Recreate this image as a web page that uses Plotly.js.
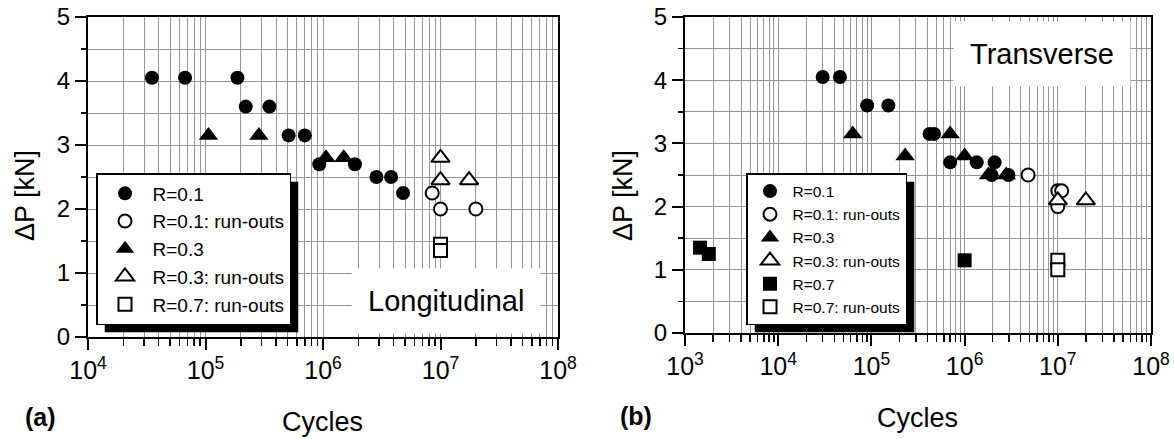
<!DOCTYPE html>
<html><head><meta charset="utf-8">
<script src="https://cdn.plot.ly/plotly-3.0.1.min.js"></script>
<style>html,body{margin:0;padding:0;background:#fff;} #chart{width:1174px;height:439px;}</style>
</head><body><div id="chart"></div>
<script>
// ---------- Data: (a) Longitudinal ----------
const longR01Cycles   = [3.5e4, 6.7e4, 1.87e5, 2.2e5, 3.5e5, 5.1e5, 7.0e5, 9.3e5, 1.87e6, 2.85e6, 3.8e6, 4.8e6];
const longR01Load     = [4.05, 4.05, 4.05, 3.6, 3.6, 3.15, 3.15, 2.7, 2.7, 2.5, 2.5, 2.25];
const longR01RoCycles = [8.5e6, 1.0e7, 2.0e7];
const longR01RoLoad   = [2.25, 2.0, 2.0];
const longR03Cycles   = [1.06e5, 2.85e5, 1.06e6, 1.5e6];
const longR03Load     = [3.15, 3.15, 2.8, 2.8];
const longR03RoCycles = [1.0e7, 1.0e7, 1.75e7];
const longR03RoLoad   = [2.8, 2.45, 2.45];
const longR07RoCycles = [1.0e7, 1.0e7];
const longR07RoLoad   = [1.45, 1.35];

// ---------- Data: (b) Transverse ----------
const tranR01Cycles   = [3.0e4, 4.6e4, 9.0e4, 1.52e5, 4.2e5, 4.7e5, 7.0e5, 1.35e6, 2.1e6, 1.95e6, 2.95e6];
const tranR01Load     = [4.05, 4.05, 3.6, 3.6, 3.15, 3.15, 2.7, 2.7, 2.7, 2.5, 2.5];
const tranR01RoCycles = [4.8e6, 1.0e7, 1.1e7, 1.0e7];
const tranR01RoLoad   = [2.5, 2.25, 2.25, 2.0];
const tranR03Cycles   = [6.3e4, 2.3e5, 7.0e5, 1.0e6, 1.8e6, 2.8e6];
const tranR03Load     = [3.15, 2.8, 3.15, 2.8, 2.5, 2.5];
const tranR03RoCycles = [1.0e7, 2.0e7];
const tranR03RoLoad   = [2.1, 2.1];
const tranR07Cycles   = [1.45e3, 1.8e3, 1.0e6];
const tranR07Load     = [1.35, 1.25, 1.15];
const tranR07RoCycles = [1.0e7, 1.0e7];
const tranR07RoLoad   = [1.15, 1.0];

const legendNames = ['R=0.1', 'R=0.1: run-outs', 'R=0.3', 'R=0.3: run-outs', 'R=0.7', 'R=0.7: run-outs'];
const panelLabels = ['(a)', '(b)'];
const panelNames = ['Longitudinal', 'Transverse'];
const xTitle = 'Cycles';
const yTitle = '\u0394P [kN]';

// ---------- Styles ----------
const W = 1174, H = 439;
const FONT = 'Arial, "Liberation Sans", Helvetica, sans-serif';
function filled(sym, size) { return {symbol: sym, size: size, color: 'black', line: {width: 0}}; }
function open(sym, size) { return {symbol: sym, size: size, color: 'white', line: {color: 'black', width: 2}}; }
const mk = {
  c: filled('circle', 14), co: open('circle', 13),
  t: filled('triangle-up', 17), to: open('triangle-up', 16),
  s: filled('square', 14), so: open('square', 13)
};
function tr(x, y, name, marker, xa, ya, lg) {
  return {type: 'scatter', mode: 'markers', x: x, y: y, name: name, marker: marker,
          xaxis: xa, yaxis: ya, legend: lg, cliponaxis: false, hoverinfo: 'skip'};
}
const data = [
  tr(longR01Cycles, longR01Load, legendNames[0], mk.c, 'x', 'y', 'legend'),
  tr(longR01RoCycles, longR01RoLoad, legendNames[1], mk.co, 'x', 'y', 'legend'),
  tr(longR03Cycles, longR03Load, legendNames[2], mk.t, 'x', 'y', 'legend'),
  tr(longR03RoCycles, longR03RoLoad, legendNames[3], mk.to, 'x', 'y', 'legend'),
  tr(longR07RoCycles, longR07RoLoad, legendNames[5], mk.so, 'x', 'y', 'legend'),
  tr(tranR01Cycles, tranR01Load, legendNames[0], mk.c, 'x2', 'y2', 'legend2'),
  tr(tranR01RoCycles, tranR01RoLoad, legendNames[1], mk.co, 'x2', 'y2', 'legend2'),
  tr(tranR03Cycles, tranR03Load, legendNames[2], mk.t, 'x2', 'y2', 'legend2'),
  tr(tranR03RoCycles, tranR03RoLoad, legendNames[3], mk.to, 'x2', 'y2', 'legend2'),
  tr(tranR07Cycles, tranR07Load, legendNames[4], mk.s, 'x2', 'y2', 'legend2'),
  tr(tranR07RoCycles, tranR07RoLoad, legendNames[5], mk.so, 'x2', 'y2', 'legend2')
];

const GRID = '#959595';
function xAxis(range, dom, anchor) {
  return {type: 'log', range: range, domain: dom, anchor: anchor, dtick: 1,
    exponentformat: 'power', showexponent: 'all', tickfont: {size: 20, color: 'black'},
    ticks: 'outside', ticklen: 11, tickwidth: 2, tickcolor: 'black',
    showline: true, linecolor: 'black', linewidth: 2, mirror: true,
    showgrid: true, gridcolor: GRID, gridwidth: 1, zeroline: false, automargin: false,
    minor: {dtick: 'D1', ticks: 'outside', ticklen: 7, tickwidth: 1.5, tickcolor: 'black',
            showgrid: true, gridcolor: GRID, gridwidth: 1}};
}
function yAxis(dom, anchor) {
  return {range: [0, 5], domain: dom, anchor: anchor, dtick: 1, tickfont: {size: 24, color: 'black'},
    ticks: 'outside', ticklen: 11, tickwidth: 2, tickcolor: 'black',
    showline: true, linecolor: 'black', linewidth: 2, mirror: true,
    showgrid: true, gridcolor: GRID, gridwidth: 1, zeroline: false, automargin: false,
    minor: {dtick: 0.5, ticks: 'outside', ticklen: 5, tickwidth: 1.5, tickcolor: 'black',
            showgrid: true, gridcolor: GRID, gridwidth: 1}};
}
function ann(text, px, py, size, extra) {
  return Object.assign({text: text, xref: 'paper', yref: 'paper', x: px / W, y: 1 - py / H,
    xanchor: 'center', yanchor: 'middle', showarrow: false,
    font: {family: FONT, size: size, color: 'black'}}, extra || {});
}

const layout = {
  width: W, height: H, margin: {l: 0, r: 0, t: 0, b: 0, pad: 0},
  paper_bgcolor: 'white', plot_bgcolor: 'white',
  font: {family: FONT, color: 'black'},
  showlegend: true,
  xaxis: xAxis([4, 8], [88 / W, 558 / W], 'y'),
  yaxis: yAxis([(H - 337) / H, (H - 17) / H], 'x'),
  xaxis2: xAxis([3, 8], [685 / W, 1151 / W], 'y2'),
  yaxis2: yAxis([(H - 333) / H, (H - 17) / H], 'x2'),
  legend: {x: 96 / W, y: 1 - 173 / H, xanchor: 'left', yanchor: 'top', bgcolor: 'white',
           bordercolor: 'black', borderwidth: 1.5, font: {size: 19, family: FONT, color: 'black'},
           itemwidth: 45, tracegroupgap: 0},
  legend2: {x: 746 / W, y: 1 - 173 / H, xanchor: 'left', yanchor: 'top', bgcolor: 'white',
            bordercolor: 'black', borderwidth: 1.5, font: {size: 15.5, family: FONT, color: 'black'},
            itemwidth: 35, tracegroupgap: 0},
  annotations: [
    ann(panelNames[0], 445.5, 301, 29, {bgcolor: 'white', borderpad: 16}),
    ann(panelNames[1], 1041.5, 54, 29, {bgcolor: 'white', borderpad: 16}),
    ann(yTitle, 25, 196, 27, {textangle: -90}),
    ann(yTitle, 623, 196, 27, {textangle: -90}),
    ann(xTitle, 322, 422, 27),
    ann(xTitle, 917.5, 418, 27),
    ann('<b>' + panelLabels[0] + '</b>', 40, 417, 25),
    ann('<b>' + panelLabels[1] + '</b>', 636, 416, 25)
  ]
};

const gd = document.getElementById('chart');
Plotly.newPlot(gd, data, layout, {displayModeBar: false, staticPlot: true}).then(function () {
  const base = gd.getBoundingClientRect();
  const shapes = [];
  ['legend', 'legend2'].forEach(function (id) {
    const bg = gd.querySelector('g.' + id + ' rect.bg');
    if (!bg) return;
    const r = bg.getBoundingClientRect();
    const off = 8;
    const x0 = r.left - base.left + off, x1 = r.right - base.left + off;
    const y0 = r.top - base.top + off, y1 = r.bottom - base.top + off;
    shapes.push({type: 'rect', xref: 'paper', yref: 'paper', x0: x0 / W, x1: x1 / W,
      y0: 1 - y1 / H, y1: 1 - y0 / H, fillcolor: 'black', line: {width: 0}, layer: 'above'});
  });
  return Plotly.relayout(gd, {shapes: shapes});
});
</script></body></html>
